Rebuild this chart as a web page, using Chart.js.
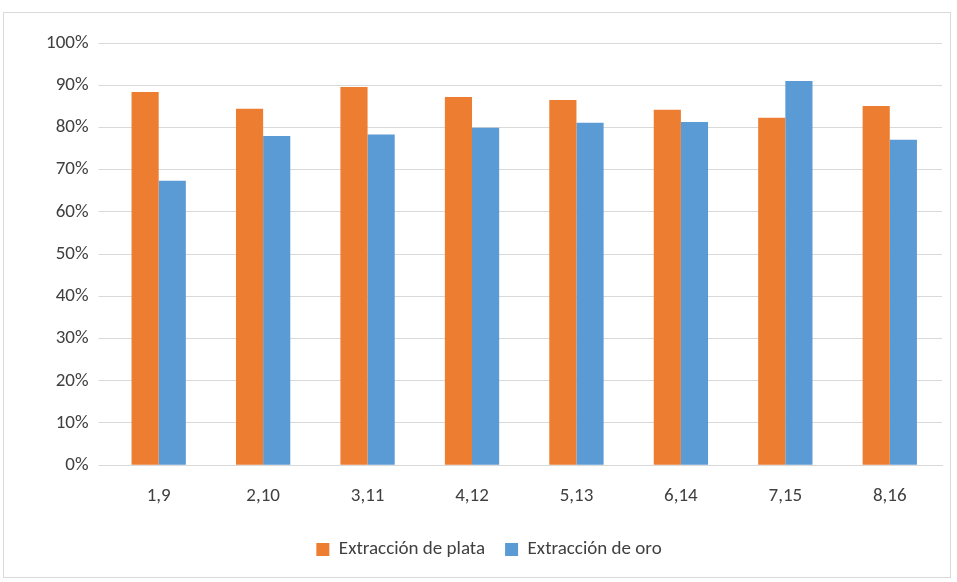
<!DOCTYPE html>
<html>
<head>
<meta charset="utf-8">
<script src="https://cdn.jsdelivr.net/npm/chart.js@4/dist/chart.umd.min.js"></script>
<style>
  body { margin: 0; background: #fff; }
  #wrap { position: absolute; left: 3px; top: 12px; width: 948px; height: 566px; border: 1px solid #d9d9d9; box-sizing: border-box; }
</style>
</head>
<body>
<div id="wrap"><canvas id="myChart"></canvas></div>
<script>
var categories = ['1,9', '2,10', '3,11', '4,12', '5,13', '6,14', '7,15', '8,16'];
var plata = [88.4, 84.4, 89.6, 87.2, 86.5, 84.2, 82.3, 85.1];
var oro = [67.4, 78.0, 78.3, 79.9, 81.1, 81.3, 91.0, 77.1];

var font = { family: "Calibri, Carlito, Lato, sans-serif", size: 19 };
var ctx = document.getElementById('myChart').getContext('2d');
new Chart(ctx, {
  type: 'bar',
  data: {
    labels: categories,
    datasets: [
      { label: 'Extracción de plata', data: plata, backgroundColor: '#ed7d31' },
      { label: 'Extracción de oro', data: oro, backgroundColor: '#5b9bd5' }
    ]
  },
  options: {
    responsive: true,
    maintainAspectRatio: false,
    animation: false,
    datasets: { bar: { categoryPercentage: 0.52, barPercentage: 1 } },
    layout: { padding: { left: 32, right: 8, top: 30, bottom: 8 } },
    scales: {
      x: {
        grid: { display: false },
        border: { color: '#d9d9d9' },
        ticks: { color: '#404040', font: font, padding: 12 }
      },
      y: {
        min: 0, max: 100,
        ticks: { stepSize: 10, color: '#404040', font: font, padding: 10,
          callback: function(v) { return v + '%'; } },
        grid: { color: '#d9d9d9' },
        border: { display: false }
      }
    },
    plugins: {
      legend: {
        position: 'bottom',
        labels: { boxWidth: 13, boxHeight: 13, color: '#404040', font: font, padding: 20 }
      },
      tooltip: { enabled: false }
    }
  }
});
</script>
</body>
</html>
